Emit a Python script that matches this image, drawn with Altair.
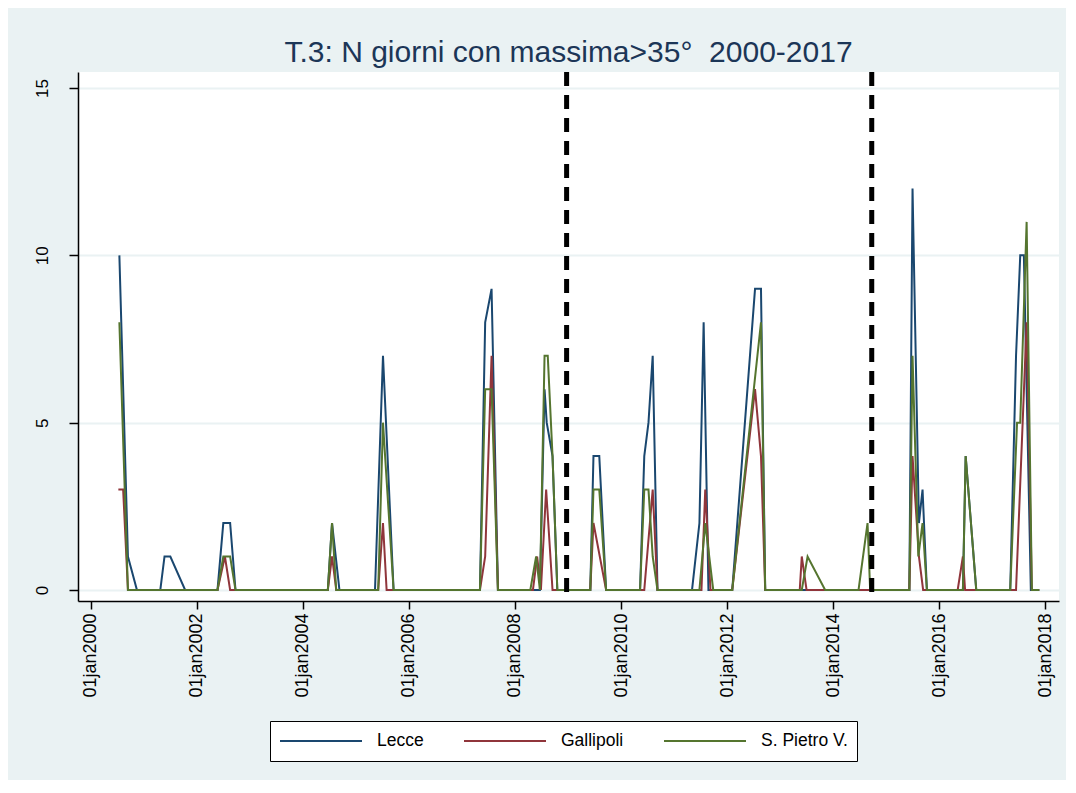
import altair as alt
import pandas as pd
import numpy as np

# ---------------- data ----------------
# time is given as decimal years, value = number of days with max > 35°
stations = ["Lecce", "Gallipoli", "S. Pietro V."]
colors = ["#1a476f", "#90353b", "#55752f"]

lecce_t = [2000.54, 2000.70, 2000.87, 2001.31, 2001.39, 2001.50, 2001.78,
           2002.39, 2002.50, 2002.63, 2002.73, 2004.47, 2004.55, 2004.69,
           2005.36, 2005.51, 2005.71, 2007.34, 2007.44, 2007.56, 2007.68,
           2008.47, 2008.56, 2008.60, 2008.71, 2008.80, 2009.42, 2009.48,
           2009.59, 2009.72, 2010.36, 2010.44, 2010.52, 2010.60, 2010.69,
           2011.34, 2011.48, 2011.56, 2011.65, 2012.10, 2012.53, 2012.64,
           2012.72, 2015.44, 2015.50, 2015.62, 2015.69, 2015.77, 2016.45,
           2016.50, 2016.70, 2017.34, 2017.45, 2017.53, 2017.60, 2017.73,
           2017.89]
lecce_v = [10, 1, 0, 0, 1, 1, 0,
           0, 2, 2, 0, 0, 2, 0,
           0, 7, 0, 0, 8, 9, 0,
           0, 6, 5, 4, 0, 0, 4,
           4, 0, 0, 4, 5, 7, 0,
           0, 2, 8, 0, 0, 9, 9,
           0, 0, 12, 2, 3, 0, 0,
           4, 0, 0, 7, 10, 10, 0,
           0]

gallipoli_t = [2000.52, 2000.61, 2000.70, 2002.39, 2002.53, 2002.63, 2004.47,
               2004.55, 2004.63, 2005.42, 2005.51, 2005.58, 2007.34, 2007.44,
               2007.56, 2007.68, 2008.34, 2008.42, 2008.49, 2008.59, 2008.71,
               2009.42, 2009.48, 2009.72, 2010.44, 2010.60, 2010.69, 2011.52,
               2011.59, 2011.69, 2012.10, 2012.53, 2012.64, 2012.72, 2013.37,
               2013.41, 2013.50, 2015.44, 2015.50, 2015.62, 2015.70, 2016.35,
               2016.45, 2016.49, 2017.45, 2017.65, 2017.75, 2017.89]
gallipoli_v = [3, 3, 0, 0, 1, 0, 0,
               1, 0, 0, 2, 0, 0, 1,
               7, 0, 0, 1, 0, 3, 0,
               0, 2, 0, 0, 3, 0, 0,
               3, 0, 0, 6, 4, 0, 0,
               1, 0, 0, 4, 1, 0, 0,
               1, 0, 0, 8, 0, 0]

spietro_t = [2000.54, 2000.70, 2002.39, 2002.50, 2002.63, 2002.73, 2004.47,
             2004.55, 2004.63, 2005.42, 2005.51, 2005.71, 2007.34, 2007.44,
             2007.56, 2007.68, 2008.29, 2008.40, 2008.47, 2008.56, 2008.62,
             2008.71, 2008.80, 2009.42, 2009.48, 2009.59, 2009.72, 2010.36,
             2010.44, 2010.52, 2010.60, 2010.69, 2011.48, 2011.59, 2011.74,
             2012.10, 2012.64, 2012.72, 2013.41, 2013.52, 2013.85, 2014.48,
             2014.65, 2014.70, 2015.44, 2015.50, 2015.61, 2015.69, 2015.77,
             2016.45, 2016.50, 2016.70, 2017.34, 2017.47, 2017.53, 2017.65,
             2017.75, 2017.89]
spietro_v = [8, 0, 0, 1, 1, 0, 0,
             2, 0, 0, 5, 0, 0, 6,
             6, 0, 0, 1, 0, 7, 7,
             4, 0, 0, 3, 3, 0, 0,
             3, 3, 1, 0, 0, 2, 0,
             0, 8, 0, 0, 1, 0, 0,
             2, 0, 0, 7, 1, 2, 0,
             0, 4, 0, 0, 5, 5, 11,
             0, 0]

# dashed vertical reference lines
break_dates = ["2008-12-22", "2014-09-24"]

# axis ticks / labels
x_tick_years = [2000, 2002, 2004, 2006, 2008, 2010, 2012, 2014, 2016, 2018]
y_ticks = [0, 5, 10, 15]
title_text = "T.3: N giorni con massima>35°\u00a0 2000-2017"


def dec_year_to_ts(t):
    y = int(np.floor(t))
    start = pd.Timestamp(year=y, month=1, day=1)
    end = pd.Timestamp(year=y + 1, month=1, day=1)
    return (start + (end - start) * (t - y)).normalize()


frames = []
for name, ts, vs in [("Lecce", lecce_t, lecce_v),
                     ("Gallipoli", gallipoli_t, gallipoli_v),
                     ("S. Pietro V.", spietro_t, spietro_v)]:
    frames.append(pd.DataFrame({
        "date": [dec_year_to_ts(t) for t in ts],
        "value": vs,
        "station": name,
    }))
df = pd.concat(frames, ignore_index=True)
rules_df = pd.DataFrame({"date": pd.to_datetime(break_dates)})

FONT = "Liberation Sans"
W, H = 981, 529

x_scale = alt.Scale(domain=[alt.DateTime(year=1999, month=10, date=5),
                            alt.DateTime(year=2018, month=4, date=6)])
y_scale = alt.Scale(domain=[-0.33, 15.48], nice=False, zero=False)

lines = alt.Chart(df).mark_line(strokeWidth=2, clip=True).encode(
    x=alt.X("date:T", scale=x_scale, title=None,
            axis=alt.Axis(values=[alt.DateTime(year=y, month=1, date=1) for y in x_tick_years],
                          labelExpr="lower(timeFormat(datum.value, '%d%b%Y'))",
                          labelAngle=270, labelAlign="right", labelBaseline="middle",
                          labelFontSize=18, labelFont=FONT, labelColor="black",
                          labelPadding=4, tickSize=8, tickWidth=1.5, tickColor="black",
                          domainColor="black", domainWidth=1.5, grid=False,
                          labelOverlap=False)),
    y=alt.Y("value:Q", scale=y_scale, title=None,
            axis=alt.Axis(values=y_ticks, labelAngle=270, labelAlign="center",
                          labelBaseline="bottom", labelFontSize=17, labelFont=FONT,
                          labelColor="black", labelPadding=18, tickSize=9,
                          tickWidth=1.5, tickColor="black", domainColor="black",
                          domainWidth=1.5, grid=True, gridColor="#eaf2f3",
                          gridWidth=2)),
    color=alt.Color("station:N",
                    scale=alt.Scale(domain=stations, range=colors),
                    legend=alt.Legend(title=None, orient="none", legendX=192, legendY=649,
                                      direction="horizontal", symbolType="stroke",
                                      symbolSize=6724, symbolStrokeWidth=2,
                                      clipHeight=22, labelFontSize=17.5, labelFont=FONT,
                                      labelColor="black", labelOffset=14,
                                      columnPadding=39, padding=9,
                                      strokeColor="black", fillColor="white")),
    detail="station:N",
)

rules = alt.Chart(rules_df).mark_rule(strokeDash=[14, 9], strokeWidth=5, color="black").encode(
    x=alt.X("date:T", scale=x_scale),
    y=alt.value(0),
    y2=alt.value(H),
)

chart = alt.layer(lines, rules).properties(
    width=W, height=H,
    title=alt.TitleParams(title_text, fontSize=30, font=FONT, fontWeight="normal",
                          color="#1c3657", anchor="middle", baseline="bottom",
                          offset=6, dy=34),
    autosize=alt.AutoSizeParams(type="none"),
    padding={"left": 70, "top": 64, "right": 7, "bottom": 179},
    background="#eaf2f3",
).configure_view(stroke=None, fill="white")

chart.save("out.html", embed_options={"renderer": "svg", "actions": False})
